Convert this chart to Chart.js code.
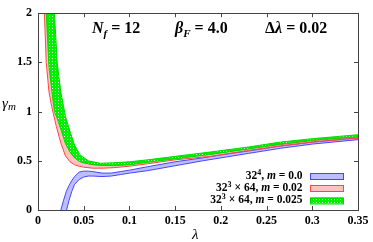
<!DOCTYPE html>
<html>
<head>
<meta charset="utf-8">
<script src="https://cdn.jsdelivr.net/npm/chart.js@4.4.1/dist/chart.umd.min.js"></script>
<style>
  html, body { margin: 0; padding: 0; background: #fff; }
  #wrap { width: 373px; height: 242px; position: relative; }
</style>
</head>
<body>
<div id="wrap"><canvas id="chart1"></canvas></div>
<script>
// 32^4, m = 0.0
const lambdaBlue = [0.025, 0.028, 0.031, 0.034, 0.037, 0.040, 0.045, 0.050, 0.055, 0.060, 0.070, 0.080, 0.090, 0.100, 0.120, 0.150, 0.180, 0.200, 0.230, 0.265, 0.300, 0.350];
const blueLow  = [-0.10, -0.05, -0.01, 0.10, 0.19, 0.26, 0.31, 0.335, 0.345, 0.345, 0.34, 0.345, 0.36, 0.375, 0.40, 0.45, 0.50, 0.53, 0.575, 0.627, 0.67, 0.715];
const blueHigh = [0.00, 0.10, 0.19, 0.25, 0.30, 0.34, 0.385, 0.395, 0.395, 0.39, 0.375, 0.375, 0.39, 0.405, 0.44, 0.49, 0.53, 0.56, 0.60, 0.65, 0.69, 0.735];

// 32^3 x 64, m = 0.02
const lambdaRed = [0.007, 0.009, 0.012, 0.015, 0.020, 0.025, 0.030, 0.035, 0.040, 0.045, 0.050, 0.060, 0.070, 0.083, 0.100, 0.120, 0.150, 0.189, 0.230, 0.265, 0.300, 0.350];
const redLow  = [2.00, 1.50, 1.20, 1.05, 0.85, 0.68, 0.55, 0.49, 0.46, 0.445, 0.435, 0.425, 0.425, 0.43, 0.445, 0.47, 0.51, 0.545, 0.605, 0.65, 0.69, 0.73];
const redHigh = [2.80, 2.20, 1.60, 1.30, 1.02, 0.85, 0.70, 0.59, 0.53, 0.50, 0.48, 0.46, 0.455, 0.455, 0.47, 0.495, 0.535, 0.57, 0.625, 0.665, 0.705, 0.745];

// 32^3 x 64, m = 0.025
const lambdaGreen = [0.009, 0.012, 0.015, 0.018, 0.021, 0.025, 0.030, 0.035, 0.040, 0.046, 0.055, 0.068, 0.083, 0.100, 0.120, 0.150, 0.189, 0.230, 0.265, 0.300, 0.350];
const greenLow  = [2.00, 1.45, 1.22, 1.00, 0.93, 0.82, 0.675, 0.59, 0.53, 0.49, 0.47, 0.455, 0.45, 0.46, 0.485, 0.52, 0.565, 0.62, 0.67, 0.71, 0.745];
const greenHigh = [3.00, 2.70, 2.40, 2.00, 1.50, 1.20, 0.95, 0.80, 0.66, 0.56, 0.50, 0.475, 0.48, 0.49, 0.51, 0.545, 0.59, 0.64, 0.69, 0.725, 0.765];

const xTicks = [0, 0.05, 0.1, 0.15, 0.2, 0.25, 0.3, 0.35];
const yTicks = [0, 0.5, 1, 1.5, 2];

const SERIF = '"Liberation Serif", "DejaVu Serif", serif';

const pts = (xs, ys) => xs.map((x, i) => ({ x: x, y: ys[i] }));

// green checker pattern
function makeChecker() {
  const c = document.createElement('canvas');
  c.width = 3; c.height = 3;
  const g = c.getContext('2d');
  g.fillStyle = '#00f000';
  g.fillRect(0, 0, 3, 3);
  g.fillStyle = '#d8ffd8';
  g.fillRect(1, 1, 1, 1);
  return g.createPattern(c, 'repeat');
}
const checker = makeChecker();

const blueLine = 'rgb(70,70,255)', blueFill = 'rgba(110,110,255,0.45)';
const redLine = 'rgb(255,70,70)', redFill = 'rgba(255,120,120,0.45)';
const greenLine = 'rgb(0,220,0)';

function drawRuns(ctx, runs, x, y, align) {
  let w = 0;
  runs.forEach(r => { ctx.font = r.font; w += ctx.measureText(r.t).width; });
  let cx = align === 'right' ? x - w : x;
  ctx.textAlign = 'left';
  ctx.textBaseline = 'alphabetic';
  runs.forEach(r => {
    ctx.font = r.font;
    ctx.fillText(r.t, cx, y + (r.dy || 0));
    cx += ctx.measureText(r.t).width;
  });
}

const decor = {
  id: 'decor',
  afterDraw(chart) {
    const ctx = chart.ctx;
    const a = chart.chartArea;
    const xs = chart.scales.x, ys = chart.scales.y;
    ctx.save();
    ctx.strokeStyle = '#444';
    ctx.lineWidth = 1;
    ctx.strokeRect(Math.round(a.left) + 0.5, Math.round(a.top) + 0.5, Math.round(a.right - a.left), Math.round(a.bottom - a.top));
    ctx.beginPath();
    xTicks.forEach(v => {
      const px = Math.round(xs.getPixelForValue(v)) + 0.5;
      ctx.moveTo(px, a.bottom); ctx.lineTo(px, a.bottom - 4);
      ctx.moveTo(px, a.top); ctx.lineTo(px, a.top + 4);
    });
    yTicks.forEach(v => {
      const py = Math.round(ys.getPixelForValue(v)) + 0.5;
      ctx.moveTo(a.left, py); ctx.lineTo(a.left + 4, py);
      ctx.moveTo(a.right, py); ctx.lineTo(a.right - 4, py);
    });
    ctx.stroke();

    ctx.fillStyle = '#000';
    const b = 'bold 16px ' + SERIF, bi = 'italic bold 16px ' + SERIF, sub = 'italic bold 11px ' + SERIF;
    drawRuns(ctx, [{ t: 'N', font: bi }, { t: 'f', font: sub, dy: 4 }, { t: ' = 12', font: b }], 92, 33);
    drawRuns(ctx, [{ t: 'β', font: bi }, { t: 'F', font: sub, dy: 4 }, { t: ' = 4.0', font: b }], 175, 33);
    drawRuns(ctx, [{ t: 'Δ', font: b }, { t: 'λ', font: bi }, { t: ' = 0.02', font: b }], 265, 33);

    // axis titles
    drawRuns(ctx, [{ t: 'γ', font: 'italic 15px ' + SERIF }, { t: 'm', font: 'italic 11px ' + SERIF, dy: 2 }], 2, 108);
    drawRuns(ctx, [{ t: 'λ', font: 'italic 15px ' + SERIF }], 192, 239);

    // legend
    const lf = 'bold 11.5px ' + SERIF, lfi = 'italic bold 11.5px ' + SERIF, lsup = 'bold 8px ' + SERIF;
    const rows = [
      { runs: [{ t: '32', font: lf }, { t: '4', font: lsup, dy: -4 }, { t: ', ', font: lf }, { t: 'm', font: lfi }, { t: ' = 0.0', font: lf }], fill: blueFill, line: blueLine, y: 178.5 },
      { runs: [{ t: '32', font: lf }, { t: '3', font: lsup, dy: -4 }, { t: ' × 64, ', font: lf }, { t: 'm', font: lfi }, { t: ' = 0.02', font: lf }], fill: redFill, line: redLine, y: 190.5 },
      { runs: [{ t: '32', font: lf }, { t: '3', font: lsup, dy: -4 }, { t: ' × 64, ', font: lf }, { t: 'm', font: lfi }, { t: ' = 0.025', font: lf }], fill: checker, line: greenLine, y: 203 }
    ];
    rows.forEach(r => {
      ctx.fillStyle = '#000';
      drawRuns(ctx, r.runs, 302.5, r.y, 'right');
      ctx.fillStyle = r.fill;
      ctx.fillRect(310, r.y - 5.5, 33, 6);
      ctx.strokeStyle = r.line;
      ctx.strokeRect(310.5, r.y - 5, 33, 6);
    });
    ctx.restore();
  }
};

const band = (xs, ys, idx, color, fill, order) => ({
  data: pts(xs, ys),
  borderColor: color,
  backgroundColor: fill,
  borderWidth: 1,
  pointRadius: 0,
  tension: 0,
  fill: idx === null ? false : { target: idx },
  order: order
});

new Chart(document.getElementById('chart1'), {
  type: 'line',
  data: {
    datasets: [
      band(lambdaBlue, blueLow, null, blueLine, blueFill, 3),
      band(lambdaBlue, blueHigh, 0, blueLine, blueFill, 3),
      band(lambdaRed, redLow, null, redLine, redFill, 2),
      band(lambdaRed, redHigh, 2, redLine, redFill, 2),
      band(lambdaGreen, greenLow, null, greenLine, checker, 1),
      band(lambdaGreen, greenHigh, 4, greenLine, checker, 1)
    ]
  },
  options: {
    responsive: true,
    maintainAspectRatio: false,
    animation: false,
    layout: { padding: { top: 5, right: 15, left: 0, bottom: 0 } },
    plugins: { legend: { display: false }, tooltip: { enabled: false } },
    scales: {
      x: {
        type: 'linear', min: 0, max: 0.35,
        grid: { display: false, drawTicks: false },
        border: { display: false },
        afterBuildTicks: s => { s.ticks = xTicks.map(v => ({ value: v })); },
        afterFit: s => { s.height = 32; },
        ticks: {
          padding: 4, color: '#000', maxRotation: 0,
          font: { family: SERIF, weight: 'bold', size: 12 },
          callback: v => String(+v.toFixed(2))
        }
      },
      y: {
        type: 'linear', min: 0, max: 2,
        grid: { display: false, drawTicks: false },
        border: { display: false },
        afterBuildTicks: s => { s.ticks = yTicks.map(v => ({ value: v })); },
        afterFit: s => { s.width = 38; },
        ticks: {
          padding: 6, color: '#000',
          font: { family: SERIF, weight: 'bold', size: 12 },
          callback: v => String(v)
        }
      }
    }
  },
  plugins: [decor]
});
</script>
</body>
</html>
